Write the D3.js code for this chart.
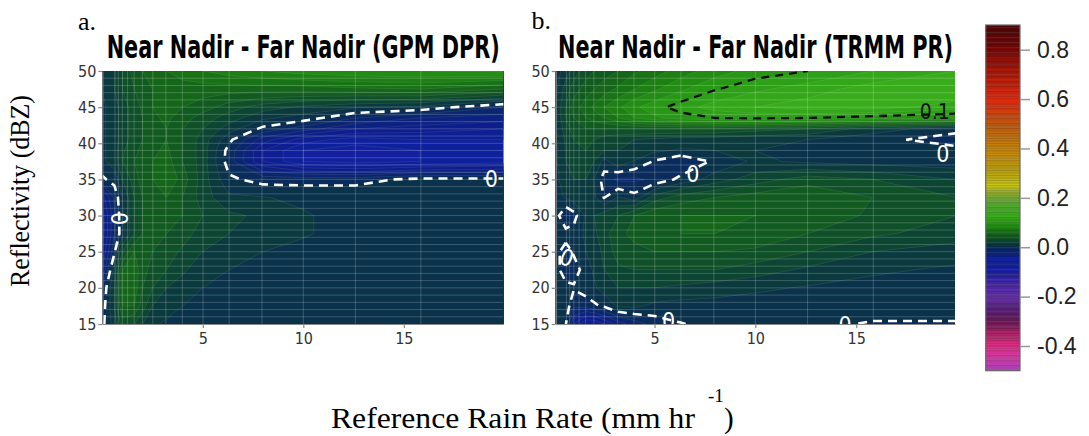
<!DOCTYPE html>
<html>
<head>
<meta charset="utf-8">
<script src="https://cdn.jsdelivr.net/npm/d3@7"></script>
<style>
  html, body { margin: 0; padding: 0; background: #ffffff; }
  svg { display: block; }
</style>
</head>
<body>
<svg id="chart" width="1089" height="436"></svg>
<script>
// Grid on which the near-nadir minus far-nadir differences are tabulated
const rainRate = [0, 0.6, 1.0, 1.6, 2.0, 2.5, 3.2, 4.0, 5.0, 6.3, 8.0, 10, 12.6, 15.8, 20];           // mm/hr
const reflectivity = [15, 17.5, 20, 22.5, 25, 27.5, 30, 32.5, 35, 37.5, 39, 40.5, 42, 43.5, 45, 47.5, 50]; // dBZ

// GPM DPR: one row per reflectivity level, one column per rain rate
const diffGPM = [
  [-0.003, 0.015, 0.035, 0.03, 0.02, 0.012, 0.008, 0.006, 0.005, 0.005, 0.005, 0.005, 0.005, 0.005, 0.005],
  [-0.006, 0.02, 0.05, 0.05, 0.035, 0.02, 0.015, 0.01, 0.007, 0.005, 0.005, 0.005, 0.005, 0.005, 0.005],
  [-0.01, 0.02, 0.055, 0.055, 0.04, 0.03, 0.02, 0.015, 0.01, 0.007, 0.005, 0.005, 0.005, 0.005, 0.005],
  [-0.03, 0.015, 0.05, 0.055, 0.045, 0.035, 0.03, 0.022, 0.013, 0.01, 0.007, 0.005, 0.005, 0.005, 0.005],
  [-0.04, -0.002, 0.03, 0.05, 0.045, 0.04, 0.035, 0.028, 0.02, 0.015, 0.01, 0.007, 0.005, 0.005, 0.005],
  [-0.045, -0.01, 0.006, 0.03, 0.04, 0.04, 0.04, 0.035, 0.025, 0.02, 0.016, 0.011, 0.006, 0.005, 0.005],
  [-0.045, -0.012, 0.008, 0.03, 0.04, 0.045, 0.045, 0.04, 0.03, 0.022, 0.018, 0.011, 0.006, 0.005, 0.005],
  [-0.035, -0.008, 0.01, 0.03, 0.04, 0.045, 0.05, 0.04, 0.025, 0.012, 0.0105, 0.008, 0.008, 0.006, 0.005],
  [-0.002, 0.004, 0.02, 0.035, 0.045, 0.05, 0.06, 0.045, 0.025, 0.002, -0.004, -0.004, -0.004, 0.003, 0.003],
  [0.008, 0.015, 0.03, 0.04, 0.045, 0.05, 0.055, 0.04, 0.025, -0.005, -0.04, -0.06, -0.065, -0.06, -0.055],
  [0.008, 0.015, 0.028, 0.038, 0.042, 0.048, 0.052, 0.04, 0.025, -0.004, -0.04, -0.06, -0.065, -0.06, -0.055],
  [0.008, 0.015, 0.025, 0.035, 0.04, 0.045, 0.05, 0.04, 0.025, 0.003, -0.025, -0.045, -0.055, -0.05, -0.05],
  [0.008, 0.015, 0.025, 0.035, 0.04, 0.045, 0.05, 0.04, 0.03, 0.015, -0.003, -0.015, -0.03, -0.035, -0.04],
  [0.008, 0.015, 0.025, 0.035, 0.04, 0.048, 0.052, 0.045, 0.035, 0.025, 0.012, 0.0055, -0.01, -0.02, -0.025],
  [0.008, 0.015, 0.025, 0.035, 0.042, 0.05, 0.055, 0.05, 0.045, 0.035, 0.025, 0.018, 0.0114, 0.0073, -0.01],
  [0.01, 0.02, 0.03, 0.04, 0.045, 0.05, 0.055, 0.055, 0.055, 0.055, 0.055, 0.055, 0.058, 0.06, 0.05],
  [0.01, 0.02, 0.03, 0.045, 0.05, 0.055, 0.06, 0.065, 0.07, 0.075, 0.08, 0.085, 0.088, 0.09, 0.092]
];

// TRMM PR, same layout
const diffTRMM = [
  [0.002, 0.0005, -0.03, -0.05, -0.05, -0.04, -0.025, -0.015, -0.006, -0.0005, 0.003, 0.004, 0.003, -0.001, -0.001],
  [0.003, 0.006, -0.008, -0.006, -0.002, 0.002, 0.012, 0.012, 0.0076, 0.006, 0.006, 0.005, 0.005, 0.005, 0.005],
  [0.003, 0.002, 0.001, 0.0055, 0.008, 0.015, 0.02, 0.02, 0.02, 0.018, 0.015, 0.012, 0.009, 0.006, 0.005],
  [0.004, -0.004, -0.004, 0.004, 0.012, 0.02, 0.028, 0.03, 0.03, 0.03, 0.03, 0.025, 0.018, 0.012, 0.008],
  [0.004, -0.004, 0.0013, 0.01, 0.015, 0.022, 0.035, 0.038, 0.04, 0.04, 0.04, 0.038, 0.03, 0.02, 0.015],
  [0.004, 0.004, 0.004, 0.012, 0.018, 0.025, 0.038, 0.042, 0.048, 0.05, 0.05, 0.048, 0.04, 0.032, 0.025],
  [0.008, -0.01, -0.004, 0.012, 0.02, 0.025, 0.03, 0.04, 0.048, 0.05, 0.05, 0.05, 0.048, 0.038, 0.03],
  [0.006, 0.011, 0.015, 0.018, 0.012, -0.0005, 0.011, 0.004, 0.025, 0.035, 0.04, 0.045, 0.05, 0.04, 0.03],
  [0.006, 0.015, 0.02, 0.02, 0.01, -0.005, -0.012, -0.012, -0.008, 0.003, 0.015, 0.025, 0.035, 0.03, 0.02],
  [0.006, 0.02, 0.025, 0.025, 0.02, 0.0064, 0.018, 0.0094, -0.001, -0.01, 0.002, 0.012, 0.008, 0.005, 0.004],
  [0.006, 0.02, 0.028, 0.03, 0.025, 0.02, 0.02, 0.018, 0.012, 0.0088, 0.01, 0.01, 0.008, 0.006, 0.004],
  [0.006, 0.022, 0.03, 0.032, 0.03, 0.025, 0.022, 0.02, 0.018, 0.015, 0.014, 0.012, 0.01, 0.004, -0.006],
  [0.006, 0.025, 0.035, 0.04, 0.04, 0.04, 0.04, 0.04, 0.04, 0.04, 0.04, 0.035, 0.03, 0.015, 0.004],
  [0.006, 0.03, 0.04, 0.05, 0.055, 0.06, 0.07, 0.08, 0.088, 0.095, 0.1, 0.102, 0.1, 0.095, 0.09],
  [0.006, 0.03, 0.045, 0.055, 0.062, 0.07, 0.078, 0.088, 0.096, 0.105, 0.115, 0.12, 0.125, 0.125, 0.115],
  [0.004, 0.025, 0.035, 0.045, 0.05, 0.055, 0.062, 0.07, 0.078, 0.088, 0.099, 0.108, 0.115, 0.125, 0.13],
  [0.003, 0.015, 0.025, 0.035, 0.04, 0.045, 0.05, 0.058, 0.065, 0.075, 0.085, 0.094, 0.1, 0.11, 0.12]
];

// Axis ticks
const xTicks = [5, 10, 15];
const yTicks = [15, 20, 25, 30, 35, 40, 45, 50];
const colorTicks = [-0.4, -0.2, 0.0, 0.2, 0.4, 0.6, 0.8];

// Colour ramp of the difference scale
const colorStops = [-0.5, -0.45, -0.4, -0.35, -0.3, -0.25, -0.2, -0.15, -0.1, -0.06, -0.03, -0.01, 0.0,
  0.01, 0.03, 0.05, 0.07, 0.09, 0.11, 0.13, 0.16, 0.19, 0.22, 0.25, 0.28, 0.32, 0.36, 0.4, 0.45, 0.5,
  0.55, 0.6, 0.7, 0.8, 0.9];
const colorValues = ["#b040c0", "#d03caa", "#e03088", "#b02468", "#6a1a55", "#58207a", "#6430aa", "#4a28a8",
  "#1c20a2", "#1020a0", "#0c1e88", "#0a2868", "#0a3050", "#0a3444", "#0d4a2c", "#13601c", "#1a7814",
  "#249214", "#30a418", "#3cae1c", "#48ac28", "#68a838", "#90aa30", "#c8c818", "#c0b010", "#b89c10",
  "#c49010", "#c88408", "#c07010", "#c05a10", "#d04010", "#e02a10", "#b01a08", "#780808", "#4a0808"];

// Inline labels of the highlighted contours (level, position, rotation)
const labelsGPM = [
  { level: 0, x: 0.85, y: 29.6, angle: 90 },
  { level: 0, x: 19.35, y: 35.1, angle: 0 }
];
const labelsTRMM = [
  { level: 0, x: 6.9, y: 35.8, angle: 0 },
  { level: 0, x: 0.65, y: 24.2, angle: 20 },
  { level: 0, x: 5.7, y: 15.4, angle: 0 },
  { level: 0, x: 14.45, y: 14.9, angle: 0 },
  { level: 0, x: 19.3, y: 38.6, angle: 0 },
  { level: 0.1, x: 18.9, y: 44.4, angle: 0 }
];

const highlighted = [0, 0.1];

// ---------------------------------------------------------------------------
const svg = d3.select("#chart");
const narrow = "'Liberation Sans Narrow', 'Arial Narrow', 'DejaVu Sans Condensed', sans-serif";
const serif = "'Liberation Serif', 'Times New Roman', serif";
const sans = "'Liberation Sans', Arial, sans-serif";

const color = d3.scaleLinear().domain(colorStops).range(colorValues)
  .interpolate(d3.interpolateRgb).clamp(true);
const levels = d3.range(-50, 90).map(k => k / 100);
const fmtLabel = d3.formatLocale({ decimal: ".", thousands: ",", grouping: [3], currency: ["", ""], minus: "-" }).format(".1f");

const nx = rainRate.length, ny = reflectivity.length;
// contour coordinates are in grid units (cell centres at i + 0.5); map them onto the data grid
const gx = d3.scaleLinear().domain(rainRate.map((_, i) => i + 0.5)).range(rainRate).clamp(true);
const gy = d3.scaleLinear().domain(reflectivity.map((_, i) => i + 0.5)).range(reflectivity).clamp(true);

// open isolines for one level, with the parts that run along the grid border removed
function isolines(values, level) {
  const shape = d3.contours().size([nx, ny]).thresholds([level])(values)[0];
  const lo = 0.5 + 1e-9, hiX = nx - 0.5 - 1e-9, hiY = ny - 0.5 - 1e-9;
  const border = (p, q) => (p[0] <= lo && q[0] <= lo) || (p[0] >= hiX && q[0] >= hiX) ||
    (p[1] <= lo && q[1] <= lo) || (p[1] >= hiY && q[1] >= hiY);
  const out = [];
  shape.coordinates.forEach(poly => poly.forEach(ring => {
    let pts = ring.slice();
    const f = pts[0], l = pts[pts.length - 1];
    if (pts.length > 1 && f[0] === l[0] && f[1] === l[1]) pts = pts.slice(0, -1);
    const n = pts.length;
    let start = 0;
    for (let k = 0; k < n; k++) {
      if (border(pts[k], pts[(k + 1) % n])) { start = k + 1; break; }
    }
    let run = [];
    for (let k = 0; k < n; k++) {
      const p = pts[(start + k) % n], q = pts[(start + k + 1) % n];
      if (border(p, q)) { if (run.length > 1) out.push(run); run = []; }
      else { if (!run.length) run.push(p); run.push(q); }
    }
    if (run.length > 1) out.push(run);
  }));
  return out;
}

const panels = [
  { key: "a", tag: "a.", title: "Near Nadir - Far Nadir (GPM DPR)", grid: diffGPM, labels: labelsGPM,
    xDomain: [0, 19.95], xRange: [102.3, 503.3], titleX: 106.7, titleLen: 393, tagX: 78, tagY: 30 },
  { key: "b", tag: "b.", title: "Near Nadir - Far Nadir (TRMM PR)", grid: diffTRMM, labels: labelsTRMM,
    xDomain: [0.1, 19.9], xRange: [555.7, 955], titleX: 558, titleLen: 395, tagX: 531.5, tagY: 28.5 }
];
const yRange = [324, 71];
const defs = svg.append("defs");

panels.forEach(p => {
  const x = d3.scaleLinear().domain(p.xDomain).range(p.xRange);
  const y = d3.scaleLinear().domain([15, 50]).range(yRange);
  const g = svg.append("g");

  defs.append("clipPath").attr("id", "clip-" + p.key)
    .append("rect")
    .attr("x", p.xRange[0]).attr("y", yRange[1])
    .attr("width", p.xRange[1] - p.xRange[0]).attr("height", yRange[0] - yRange[1]);
  const plot = g.append("g").attr("clip-path", `url(#clip-${p.key})`);

  const values = p.grid.flat();
  const minV = d3.min(values), maxV = d3.max(values);
  const firstLevel = Math.floor(minV * 100) / 100;
  const usedLevels = levels.filter(t => t >= firstLevel - 1e-9 && t <= maxV);

  // filled bands
  const proj = d3.geoTransform({ point(a, b) { this.stream.point(x(gx(a)), y(gy(b))); } });
  const path = d3.geoPath(proj);
  const bands = d3.contours().size([nx, ny]).thresholds(usedLevels)(values);
  plot.selectAll("path.band").data(bands).join("path")
    .attr("class", "band")
    .attr("d", path)
    .attr("fill", d => color(d.value + 0.005))
    .attr("stroke", d => color(d.value + 0.005))
    .attr("stroke-width", 0.3);

  const line = d3.line().x(q => x(gx(q[0]))).y(q => y(gy(q[1])));

  // faint band borders
  usedLevels.filter(t => t > minV && !highlighted.some(h => Math.abs(h - t) < 1e-9)).forEach(t => {
    plot.append("g").selectAll("path").data(isolines(values, t)).join("path")
      .attr("d", line).attr("fill", "none")
      .attr("stroke", "#ffffff").attr("stroke-opacity", 0.13).attr("stroke-width", 0.7);
  });

  // background grid
  const gridX = d3.range(-2, 13).map(k => Math.pow(10, k / 10));
  const gridY = d3.range(16, 50);
  plot.append("g").selectAll("line").data(gridX).join("line")
    .attr("x1", d => x(d)).attr("x2", d => x(d))
    .attr("y1", yRange[0]).attr("y2", yRange[1])
    .attr("stroke", "#ffffff").attr("stroke-opacity", 0.2).attr("stroke-width", 1);
  plot.append("g").selectAll("line").data(gridY).join("line")
    .attr("x1", p.xRange[0]).attr("x2", p.xRange[1])
    .attr("y1", d => y(d)).attr("y2", d => y(d))
    .attr("stroke", "#ffffff").attr("stroke-opacity", 0.2).attr("stroke-width", 1);

  // highlighted contours: 0 in white, 0.1 in black
  highlighted.forEach(h => {
    const dark = h > 0;
    plot.append("g").selectAll("path").data(isolines(values, h)).join("path")
      .attr("d", line).attr("fill", "none")
      .attr("stroke", dark ? "#111111" : "#ffffff")
      .attr("stroke-width", dark ? 2.3 : 2.6)
      .attr("stroke-dasharray", dark ? "8 6" : "9 6")
      .attr("stroke-linecap", "butt");
  });

  // contour labels
  plot.append("g").selectAll("text").data(p.labels).join("text")
    .attr("transform", d => `translate(${x(d.x)},${y(d.y)}) rotate(${d.angle})`)
    .attr("text-anchor", "middle").attr("dy", "0.36em")
    .attr("font-family", narrow).attr("font-size", d => d.level > 0 ? 21 : 23)
    .attr("fill", d => d.level > 0 ? "#111111" : "#ffffff")
    .text(d => d.level > 0 ? String(d.level) : "0");

  // axes
  const ax = g.append("g").attr("transform", `translate(${p.xRange[0]},0)`)
    .call(d3.axisLeft(y).tickValues(yTicks).tickSize(4).tickSizeOuter(0).tickPadding(2));
  const bx = g.append("g").attr("transform", `translate(0,${yRange[0]})`)
    .call(d3.axisBottom(x).tickValues(xTicks).tickSize(4).tickSizeOuter(0).tickPadding(5));
  [ax, bx].forEach(a => {
    a.select(".domain").attr("stroke", "#8a8a8a").attr("stroke-width", 1.2);
    a.selectAll(".tick line").attr("stroke", "#8a8a8a").attr("stroke-width", 1.2);
    a.selectAll(".tick text").attr("font-family", narrow).attr("font-size", 16).attr("fill", "#333333");
  });

  // panel tag and title
  svg.append("text").attr("x", p.tagX).attr("y", p.tagY)
    .attr("font-family", serif).attr("font-size", 26).attr("fill", "#000").text(p.tag);
  svg.append("text").attr("x", p.titleX).attr("y", 58.3)
    .attr("font-family", narrow).attr("font-weight", "bold").attr("font-size", 32)
    .attr("textLength", p.titleLen).attr("lengthAdjust", "spacingAndGlyphs")
    .attr("fill", "#000").text(p.title);
});

// axis titles
svg.append("text")
  .attr("transform", "translate(29,191) rotate(-90)")
  .attr("text-anchor", "middle")
  .attr("font-family", serif).attr("font-size", 27)
  .attr("textLength", 192).attr("lengthAdjust", "spacingAndGlyphs")
  .text("Reflectivity (dBZ)");
svg.append("text").attr("x", 331).attr("y", 428)
  .attr("font-family", serif).attr("font-size", 29)
  .attr("textLength", 364).attr("lengthAdjust", "spacingAndGlyphs")
  .text("Reference Rain Rate (mm hr");
svg.append("text").attr("x", 708).attr("y", 402)
  .attr("font-family", serif).attr("font-size", 19).text("-1");
svg.append("text").attr("x", 724).attr("y", 428)
  .attr("font-family", serif).attr("font-size", 29).text(")");

// colour bar
const cbX = 985.7, cbW = 34.3;
const cy = d3.scaleLinear().domain([-0.5, 0.9]).range([370.7, 25]);
const cb = svg.append("g");
cb.selectAll("rect.step").data(levels).join("rect")
  .attr("class", "step")
  .attr("x", cbX).attr("width", cbW)
  .attr("y", d => cy(d + 0.01)).attr("height", d => cy(d) - cy(d + 0.01) + 0.3)
  .attr("fill", d => color(d + 0.005));
cb.selectAll("line.sep").data(levels.slice(1)).join("line")
  .attr("class", "sep")
  .attr("x1", cbX).attr("x2", cbX + cbW)
  .attr("y1", d => cy(d)).attr("y2", d => cy(d))
  .attr("stroke", "#000").attr("stroke-opacity", 0.3).attr("stroke-width", 0.6);
cb.append("rect").attr("x", cbX).attr("y", cy(0.9)).attr("width", cbW).attr("height", cy(-0.5) - cy(0.9))
  .attr("fill", "none").attr("stroke", "#6a6a6a").attr("stroke-width", 1.2);
const cax = cb.append("g").attr("transform", `translate(${cbX + cbW},0)`)
  .call(d3.axisRight(cy).tickValues(colorTicks).tickSize(10).tickSizeOuter(0).tickPadding(7).tickFormat(fmtLabel));
cax.select(".domain").remove();
cax.selectAll(".tick line").attr("stroke", "#999999").attr("stroke-width", 1.5);
cax.selectAll(".tick text").attr("font-family", sans).attr("font-size", 23).attr("fill", "#222222");
</script>
</body>
</html>
